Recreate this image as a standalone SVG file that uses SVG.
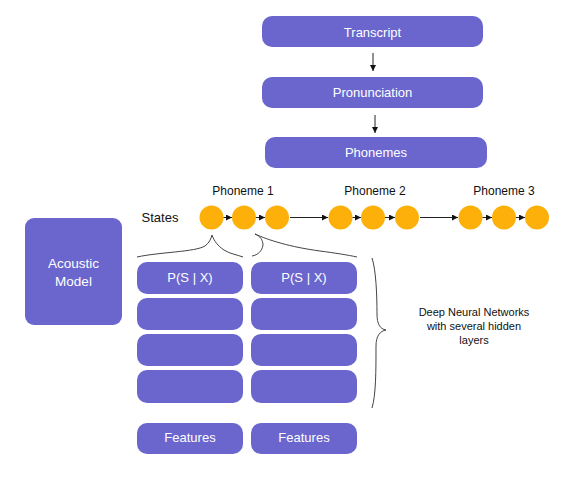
<svg xmlns="http://www.w3.org/2000/svg" width="569" height="479" viewBox="0 0 569 479">
<defs>
<marker id="ah" viewBox="0 0 10 10" refX="10" refY="5" markerWidth="6" markerHeight="6" markerUnits="userSpaceOnUse" orient="auto">
<path d="M0,0 L10,5 L0,10 Z" fill="#111"/>
</marker>
<style>
.box{fill:#6a66cd;}
.bt{fill:#fff;font-family:"Liberation Sans",Arial,sans-serif;font-size:13px;text-anchor:middle;}
.lbl{fill:#111;font-family:"Liberation Sans",Arial,sans-serif;font-size:12px;text-anchor:middle;}
.st{fill:#fdb00a;}
.ln{stroke:#222;stroke-width:1;fill:none;}
.br{stroke:#444;stroke-width:1;fill:none;}
</style>
</defs>
<rect width="569" height="479" fill="#fff"/>

<g id="transcript"><rect class="box" x="262" y="16" width="221" height="31" rx="10"/><text class="bt" x="372.5" y="37">Transcript</text></g>
<g id="pronunciation"><rect class="box" x="262" y="77" width="221" height="31" rx="10"/><text class="bt" x="372.5" y="97">Pronunciation</text></g>
<g id="phonemes"><rect class="box" x="265" y="137" width="222" height="31" rx="10"/><text class="bt" x="376" y="157">Phonemes</text></g>

<g id="acoustic-model"><rect class="box" x="25" y="218" width="97" height="107" rx="9"/><text class="bt" x="73.5" y="268" style="font-size:13.5px">Acoustic</text><text class="bt" x="73.5" y="286" style="font-size:13.5px">Model</text></g>

<g id="labels">
<text class="lbl" x="243" y="195">Phoneme 1</text>
<text class="lbl" x="375" y="195">Phoneme 2</text>
<text class="lbl" x="504" y="195">Phoneme 3</text>
<text class="lbl" x="160" y="222" style="font-size:13px">States</text>
<text class="lbl" x="474" y="316" style="font-size:11px">Deep Neural Networks</text>
<text class="lbl" x="474" y="330" style="font-size:11px">with several hidden</text>
<text class="lbl" x="474" y="344" style="font-size:11px">layers</text>
</g>

<g id="states">
<circle class="st" cx="211.5" cy="217.5" r="12"/>
<circle class="st" cx="244" cy="217.5" r="12"/>
<circle class="st" cx="277" cy="217.5" r="12"/>
<circle class="st" cx="340.5" cy="217.5" r="12"/>
<circle class="st" cx="373" cy="217.5" r="12"/>
<circle class="st" cx="407" cy="217.5" r="12"/>
<circle class="st" cx="470.5" cy="217.5" r="12"/>
<circle class="st" cx="504" cy="217.5" r="12"/>
<circle class="st" cx="537" cy="217.5" r="12"/>
</g>

<g id="dnn-left">
<rect class="box" x="137" y="262" width="106" height="32" rx="10"/><text class="bt" x="190" y="282">P(S | X)</text>
<rect class="box" x="137" y="298" width="106" height="32" rx="10"/>
<rect class="box" x="137" y="334" width="106" height="32" rx="10"/>
<rect class="box" x="137" y="370" width="106" height="33" rx="10"/>
</g>
<g id="dnn-right">
<rect class="box" x="251" y="262" width="106" height="32" rx="10"/><text class="bt" x="304" y="282">P(S | X)</text>
<rect class="box" x="251" y="298" width="106" height="32" rx="10"/>
<rect class="box" x="251" y="334" width="106" height="32" rx="10"/>
<rect class="box" x="251" y="370" width="106" height="33" rx="10"/>
</g>
<g id="features-left"><rect class="box" x="137" y="423" width="106" height="31" rx="10"/><text class="bt" x="190" y="442">Features</text></g>
<g id="features-right"><rect class="box" x="251" y="423" width="106" height="31" rx="10"/><text class="bt" x="304" y="442">Features</text></g>

<g id="connectors">
<line class="ln" x1="373" y1="53" x2="373" y2="71" marker-end="url(#ah)"/>
<line class="ln" x1="375" y1="115" x2="375" y2="133" marker-end="url(#ah)"/>
<line class="ln" x1="223.5" y1="217.5" x2="232" y2="217.5" marker-end="url(#ah)"/>
<line class="ln" x1="256" y1="217.5" x2="265" y2="217.5" marker-end="url(#ah)"/>
<line class="ln" x1="290" y1="217.5" x2="328" y2="217.5" marker-end="url(#ah)"/>
<line class="ln" x1="352.5" y1="217.5" x2="361" y2="217.5" marker-end="url(#ah)"/>
<line class="ln" x1="385" y1="217.5" x2="395" y2="217.5" marker-end="url(#ah)"/>
<line class="ln" x1="420" y1="217.5" x2="458" y2="217.5" marker-end="url(#ah)"/>
<line class="ln" x1="482.5" y1="217.5" x2="492" y2="217.5" marker-end="url(#ah)"/>
<line class="ln" x1="516" y1="217.5" x2="525" y2="217.5" marker-end="url(#ah)"/>
<path class="br" d="M137,257 C160,252 195,252 205,246 C209,243 211,239 212,235 C214,241 218,246 224,250 C230,254 238,255 243,257"/>
<path class="br" d="M252,256 C258,255 262,251 263,245 C263,240 260,236 255,234 C268,240 290,247 320,251 C335,253 348,255 357,257"/>
<path class="br" d="M372,258 C376,270 377,295 377,314 C377,324 380,329 386,330 C380,331 376,336 376,346 C376,370 376,395 372,408"/>
</g>
</svg>
